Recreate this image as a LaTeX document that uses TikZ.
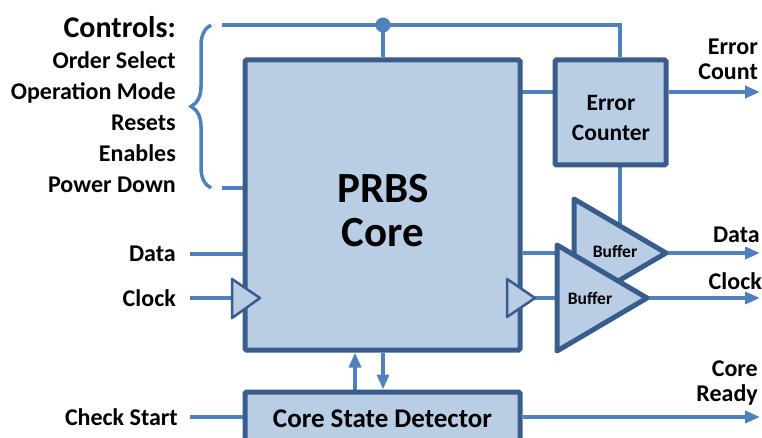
\documentclass[tikz,border=0pt]{standalone}
\usepackage{fontspec}
\setmainfont{Carlito}
\usetikzlibrary{calc,decorations.pathreplacing,arrows.meta,backgrounds}
\definecolor{boxfill}{HTML}{B9CDE5}
\definecolor{boxline}{HTML}{385D8A}
\definecolor{wirecol}{HTML}{4F81BD}
\tikzset{
  block/.style={draw=boxline, fill=boxfill, line width=5pt, rounded corners=1.5pt, inner sep=0pt},
  wire/.style={draw=wirecol, line width=3.5pt},
  sig/.style={wire, -{Triangle[length=15pt,width=12pt]}},
  clk/.style={draw=boxline, fill=boxfill, line width=2.5pt, line join=round},
  buf/.style={draw=boxline, fill=boxfill, line width=5pt, line join=round},
  lbl/.style={font=\bfseries\fontsize{24}{25}\selectfont, inner sep=0pt}
}
\begin{document}
\begin{tikzpicture}[x=1pt,y=-1pt]
\useasboundingbox (0,0) rectangle (762,438);
\node [block, minimum width=275, minimum height=290] (core) at (382.5,205) {};
\node [font=\bfseries\fontsize{43}{44}\selectfont, align=center] (coretxt) at (383,211) {PRBS\\Core};
\node [block, minimum width=111, minimum height=105] (ec) at (610.5,112.5) {};
\node [align=center, font=\bfseries\fontsize{23.5}{30}\selectfont] (ectxt) at (611,118) {Error\\Counter};
\node [block, minimum width=275, minimum height=53, font=\bfseries\fontsize{27}{28}\selectfont] (csd) at (382.5,418.5) {Core State Detector};
\draw [buf] (574,199) -- (666,253) -- (574,307) -- cycle;
\node [font=\bfseries\fontsize{17.5}{18}\selectfont] (b1) at (615,251) {Buffer};
\draw [buf] (557,245) -- (647,298) -- (557,351) -- cycle;
\node [font=\bfseries\fontsize{17.5}{18}\selectfont] (b2) at (590,298) {Buffer};
\draw [clk] (232,279) -- (260,298) -- (232,318) -- cycle;
\draw [clk] (507,279) -- (535,298) -- (507,317) -- cycle;
\coordinate (ctl) at (383,25);
\coordinate (tap) at (620,25);
\coordinate (eq) at (520,92);
\coordinate (errout) at (760,92);
\coordinate (dout) at (760,253);
\coordinate (cout) at (760,298);
\coordinate (rdy) at (760,417);
\node [lbl, anchor=north east, align=right, font=\bfseries\fontsize{24}{31}\selectfont] (ctrl) at (176,16)
  {{\fontsize{30}{30}\selectfont Controls:}\\Order Select\\Operation Mode\\Resets\\Enables\\Power Down};
\node [lbl, anchor=east] (din) at (176,254) {Data};
\node [lbl, anchor=east] (cin) at (176,298) {Clock};
\node [lbl, anchor=east] (chk) at (178,417) {Check Start};
\node [lbl, anchor=south east, align=right] (errlbl) at (758,80) {Error\\Count};
\node [lbl, anchor=south east] (dlbl) at (760,243) {Data};
\node [lbl, anchor=south east] (clbl) at (762,290) {Clock};
\node [lbl, anchor=south east, align=right] (rdylbl) at (758,405) {Core\\Ready};
\begin{pgfonlayer}{background}
\draw [wire] (222,25) -- (tap) -- (tap |- ec.north);
\draw [wire] (ctl) -- (ctl |- core.north);
\draw [wire, decorate, decoration={brace, amplitude=20pt}] (211,188) -- (211,25);
\draw [wire] (222,188) -- (core.west |- 0,188);
\draw [wire] (eq) -- (eq -| ec.west);
\draw [sig] (errout -| ec.east) -- (errout);
\draw [wire] (tap |- ec.south) -- (620,228);
\draw [wire] ($(din.east)+(14,0)$) -- (din -| core.west);
\draw [wire] ($(cin.east)+(14,0)$) -- (232,298);
\draw [wire] ($(chk.east)+(12,0)$) -- (chk -| csd.west);
\draw [wire] (core.east |- 0,253) -- (560,253);
\draw [wire] (535,298) -- (560,298);
\draw [sig] (666,253) -- (dout);
\draw [sig] (647,298) -- (cout);
\draw [sig] (csd.east |- rdy) -- (rdy);
\draw [sig] (csd.north -| 355,0) -- (core.south -| 355,0);
\draw [sig] (core.south -| 383,0) -- (csd.north -| 383,0);
\end{pgfonlayer}
\fill [wirecol] (ctl) circle (7.5);
\end{tikzpicture}
\end{document}
